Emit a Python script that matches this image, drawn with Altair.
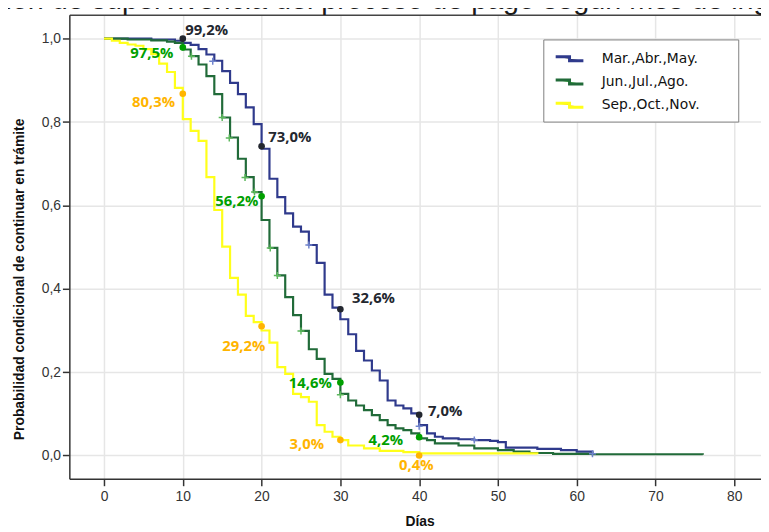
import altair as alt
import pandas as pd

# ---------------- data ----------------
groups = ["Mar.,Abr.,May.", "Jun.,Jul.,Ago.", "Sep.,Oct.,Nov."]

mar_days = [0, 6, 9, 10, 11, 12, 13, 14, 15, 16, 17, 18, 19, 20, 21, 22, 23, 24, 25, 26,
            27, 28, 29, 30, 31, 32, 33, 34, 35, 36, 37, 38, 39, 40, 41, 42, 43, 45, 47, 49,
            50, 51, 55, 58, 60, 62]
mar_surv = [1.0, 0.998, 0.995, 0.99, 0.985, 0.975, 0.962, 0.947, 0.922, 0.894, 0.867, 0.835,
            0.795, 0.736, 0.664, 0.62, 0.581, 0.549, 0.537, 0.505, 0.462, 0.386, 0.355, 0.327,
            0.291, 0.251, 0.228, 0.204, 0.18, 0.132, 0.12, 0.113, 0.101, 0.073, 0.053, 0.045,
            0.041, 0.039, 0.037, 0.035, 0.032, 0.019, 0.016, 0.013, 0.0095, 0.006]

jun_days = [0, 3, 6, 8, 9, 10, 11, 12, 13, 14, 15, 16, 17, 18, 19, 20, 21, 22, 23, 24, 25,
            26, 27, 28, 29, 30, 31, 32, 33, 34, 35, 36, 37, 38, 39, 40, 41, 42, 45, 47, 50,
            52, 54, 57, 62, 76]
jun_surv = [1.0, 0.998, 0.996, 0.993, 0.99, 0.974, 0.958, 0.938, 0.91, 0.867, 0.811, 0.763,
            0.712, 0.668, 0.632, 0.565, 0.498, 0.432, 0.38, 0.337, 0.299, 0.255, 0.232, 0.196,
            0.184, 0.148, 0.132, 0.12, 0.109, 0.097, 0.085, 0.073, 0.065, 0.061, 0.053, 0.041,
            0.037, 0.029, 0.024, 0.017, 0.013, 0.0095, 0.006, 0.004, 0.003, 0.002]

sep_days = [0, 1, 2, 3, 4, 5, 6, 7, 8, 9, 10, 11, 12, 13, 14, 15, 16, 17, 18, 19, 20, 21,
            22, 23, 24, 25, 26, 27, 28, 29, 30, 31, 33, 35, 38, 40, 55]
sep_surv = [1.0, 0.995, 0.99, 0.986, 0.983, 0.975, 0.963, 0.94, 0.92, 0.882, 0.807, 0.779,
            0.755, 0.668, 0.589, 0.501, 0.426, 0.386, 0.335, 0.32, 0.3, 0.271, 0.212, 0.196,
            0.148, 0.14, 0.129, 0.073, 0.057, 0.045, 0.037, 0.024, 0.017, 0.011, 0.008, 0.005,
            0.003]

# censored observations (+)
cens_mar_days = [13.8, 26, 40, 47, 62]
cens_mar_vals = [0.946, 0.505, 0.07, 0.037, 0.004]
cens_jun_days = [11.1, 15, 15.9, 17.9, 19.1, 21.1, 22, 25, 30]
cens_jun_vals = [0.958, 0.811, 0.762, 0.667, 0.632, 0.498, 0.432, 0.299, 0.146]

# highlighted points at 10, 20, 30, 40 days
dot_days = [10, 20, 30, 40]
dot_mar = [1.0, 0.742, 0.351, 0.0976]
dot_jun = [0.979, 0.622, 0.175, 0.044]
dot_sep = [0.868, 0.31, 0.037, 0.0]

# annotation texts and their centres (in data units)
lab_mar = ["99,2%", "73,0%", "32,6%", "7,0%"]
lab_mar_day = [13.03, 23.59, 34.2, 43.3]
lab_mar_val = [1.021, 0.764, 0.378, 0.106]
lab_jun = ["97,5%", "56,2%", "14,6%", "4,2%"]
lab_jun_day = [6.07, 16.86, 26.19, 35.77]
lab_jun_val = [0.966, 0.610, 0.175, 0.037]
lab_sep = ["80,3%", "29,2%", "3,0%", "0,4%"]
lab_sep_day = [6.28, 17.75, 25.75, 39.64]
lab_sep_val = [0.847, 0.263, 0.027, -0.0226]

x_ticks = [0, 10, 20, 30, 40, 50, 60, 70, 80]
y_ticks = [0, 0.2, 0.4, 0.6, 0.8, 1.0]

# ---------------- tables ----------------
def frame(days, vals, g, extra=None):
    d = pd.DataFrame({"day": days, "value": vals})
    d["group"] = g
    if extra is not None:
        d["label"] = extra
    return d

lines_df = pd.concat([frame(mar_days, mar_surv, groups[0]),
                      frame(jun_days, jun_surv, groups[1]),
                      frame(sep_days, sep_surv, groups[2])], ignore_index=True)
cens_df = pd.concat([frame(cens_mar_days, cens_mar_vals, groups[0]),
                     frame(cens_jun_days, cens_jun_vals, groups[1])], ignore_index=True)
dots_df = pd.concat([frame(dot_days, dot_mar, groups[0]),
                     frame(dot_days, dot_jun, groups[1]),
                     frame(dot_days, dot_sep, groups[2])], ignore_index=True)
labs_df = pd.concat([frame(lab_mar_day, lab_mar_val, groups[0], lab_mar),
                     frame(lab_jun_day, lab_jun_val, groups[1], lab_jun),
                     frame(lab_sep_day, lab_sep_val, groups[2], lab_sep)], ignore_index=True)

# ---------------- styling ----------------
line_colors = ["#2f3a8c", "#216b39", "#ffff1a"]
cross_colors = ["#6f83cc", "#5cb85c"]
dot_colors = ["#23272f", "#00a000", "#ffb400"]

x_scale = alt.Scale(domain=[-4.4, 83.39], nice=False, zero=False)
y_scale = alt.Scale(domain=[-0.0558, 1.0575], nice=False, zero=False)
fill_scale = alt.Scale(domain=groups, range=dot_colors)

x_axis = alt.Axis(values=x_ticks, title="Días", format="d",
                  titleFont="Liberation Sans", titleFontSize=14, titleFontWeight="bold",
                  titleColor="#111111", titleX=354, titleY=47, titleAlign="center",
                  titleBaseline="alphabetic",
                  labelFont="Liberation Sans", labelFontSize=14, labelColor="#333333",
                  labelPadding=4, tickSize=7, tickColor="#333333", tickWidth=1.5,
                  domainColor="#333333", domainWidth=1.5,
                  grid=True, gridColor="#e6e6e6", gridWidth=1.5)
y_axis = alt.Axis(values=y_ticks, labelExpr="replace(format(datum.value, '.1f'), '.', ',')",
                  title="Probabilidad condicional de continuar en trámite",
                  titleFont="Liberation Sans", titleFontSize=14, titleFontWeight="bold",
                  titleColor="#111111", titleAngle=270, titleX=-46, titleY=267,
                  titleAlign="center", titleBaseline="alphabetic",
                  labelFont="Liberation Sans", labelFontSize=14, labelColor="#333333",
                  labelPadding=2, tickSize=7, tickColor="#333333", tickWidth=1.5,
                  domainColor="#333333", domainWidth=1.5,
                  grid=True, gridColor="#e6e6e6", gridWidth=1.5)
top_axis = alt.Axis(orient="top", labels=False, ticks=False, grid=False, domain=True,
                    domainColor="#444444", domainWidth=1.5, title=None)

legend = alt.Legend(title=None, orient="none", legendX=479, legendY=25, direction="vertical",
                    fillColor="white", strokeColor="#808080", padding=8,
                    symbolType="M-1.4,-0.2L0,-0.2L0,0.2L1.4,0.2", symbolSize=400,
                    symbolStrokeWidth=3, symbolOffset=7,
                    labelFont="DejaVu Sans", labelFontSize=14, labelColor="#111111",
                    labelOffset=21, rowPadding=3.5, labelLimit=300,
                    labelExpr="datum.label + '\\u2800\\u2800\\u2800'")

lines = alt.Chart(lines_df).mark_line(interpolate="step-after", strokeWidth=2.2).encode(
    x=alt.X("day:Q", scale=x_scale, axis=x_axis),
    y=alt.Y("value:Q", scale=y_scale, axis=y_axis),
    color=alt.Color("group:N", scale=alt.Scale(domain=groups, range=line_colors), legend=legend),
)

crosses = alt.Chart(cens_df).mark_point(shape="M-1,0L1,0M0,-1L0,1", filled=False, size=50,
                                        strokeWidth=1.5, opacity=1).encode(
    x=alt.X("day:Q", scale=x_scale, axis=top_axis),
    y=alt.Y("value:Q", scale=y_scale),
    stroke=alt.Stroke("group:N", scale=alt.Scale(domain=groups[:2], range=cross_colors),
                      legend=None),
)

dots = alt.Chart(dots_df).mark_circle(size=45, opacity=1).encode(
    x=alt.X("day:Q", scale=x_scale, axis=None),
    y=alt.Y("value:Q", scale=y_scale),
    fill=alt.Fill("group:N", scale=fill_scale, legend=None),
)

labels = alt.Chart(labs_df).mark_text(font="Open Sans", fontWeight="bold", fontSize=15,
                                      align="center", baseline="middle").encode(
    x=alt.X("day:Q", scale=x_scale, axis=None),
    y=alt.Y("value:Q", scale=y_scale),
    text="label:N",
    fill=alt.Fill("group:N", scale=fill_scale, legend=None),
)

chart = alt.layer(lines, crosses, dots, labels).resolve_axis(x="independent").properties(
    width=699,
    height=469,
    padding={"left": 62, "top": 4, "right": 0, "bottom": 51},
    autosize=alt.AutoSizeParams(type="none"),
    background="white",
    title=alt.TitleParams(
        text="Función de supervivencia del proceso de pago según mes de ingreso",
        font="Liberation Sans", fontSize=29, fontWeight="normal", color="#1a1a1a",
        anchor="middle", frame="group", offset=2, baseline="alphabetic", dx=-32, dy=25),
).configure_view(stroke=None)

chart.save("out.html", embed_options={"renderer": "svg", "actions": False})
